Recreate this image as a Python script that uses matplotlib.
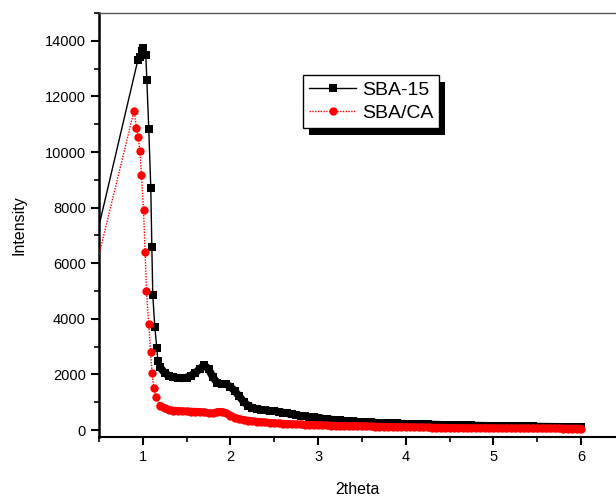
import matplotlib
matplotlib.use("Agg")
import matplotlib.pyplot as plt
from matplotlib.patches import Rectangle
from matplotlib.ticker import MultipleLocator
from matplotlib.transforms import IdentityTransform

plt.rcParams["font.family"] = ["Liberation Sans", "DejaVu Sans"]

# low-angle points (sparse markers around the main peak)
sba15_x_peak = [0.30, 0.943, 0.966, 0.989, 1.000, 1.034, 1.046, 1.068, 1.091, 1.103, 1.114, 1.137, 1.160, 1.171]
sba15_y_peak = [4660, 13300, 13400, 13640, 13750, 13500, 12600, 10840, 8720, 6600, 4850, 3700, 2950, 2500]

sbaca_x_peak = [0.30, 0.900, 0.928, 0.946, 0.966, 0.985, 1.008, 1.026, 1.042, 1.068, 1.088, 1.106, 1.126, 1.148]
sbaca_y_peak = [3700, 11490, 10876, 10553, 10050, 9190, 7930, 6400, 5000, 3805, 2825, 2035, 1497, 1195]

# dense tail, 1.20 .. 6.00 in steps of 0.05
tail_x = [round(1.20 + 0.05 * i, 2) for i in range(97)]
sba15_y_tail = [
    2250, 2050, 1950, 1900, 1870, 1860, 1890, 1960, 2060, 2200,
    2330, 2200, 1900, 1690, 1660, 1650, 1560, 1400, 1220, 1020,
    880, 800, 760, 730, 710, 695, 680, 660, 630, 600,
    570, 540, 515, 495, 475, 455, 435, 415, 395, 378,
    362, 348, 335, 322, 310, 300, 290, 282, 274, 266,
    260, 254, 248, 242, 236, 230, 225, 220, 215, 210,
    206, 202, 198, 194, 190, 186, 182, 178, 174, 170,
    167, 164, 161, 158, 155, 152, 150, 147, 145, 142,
    140, 137, 135, 133, 130, 128, 126, 124, 122, 120,
    118, 116, 114, 112, 110, 108, 106,
]
sbaca_y_tail = [
    880, 780, 730, 700, 690, 680, 670, 665, 660, 655,
    640, 610, 600, 650, 660, 610, 520, 450, 400, 365,
    340, 320, 305, 290, 275, 262, 250, 240, 230, 222,
    215, 208, 200, 194, 188, 183, 178, 172, 167, 162,
    158, 154, 150, 146, 142, 139, 136, 133, 130, 127,
    124, 121, 118, 115, 112, 109, 106, 103, 100, 97,
    95, 92, 90, 87, 85, 82, 80, 78, 76, 74,
    72, 71, 70, 69, 67, 66, 65, 64, 63, 62,
    61, 61, 60, 60, 59, 59, 58, 58, 57, 57,
    56, 56, 55, 55, 54, 54, 53,
]

sba15_x = sba15_x_peak + tail_x
sba15_y = sba15_y_peak + sba15_y_tail
sbaca_x = sbaca_x_peak + tail_x
sbaca_y = sbaca_y_peak + sbaca_y_tail

fig = plt.figure(figsize=(6.16, 5.0), dpi=100)
ax = fig.add_axes([0.1607, 0.126, 0.8393, 0.848])

# dense scan region: overlapping points read as a thick band
ax.plot(tail_x, sba15_y_tail, color="black", linewidth=5.5, solid_capstyle="round", zorder=2)
ax.plot(sba15_x, sba15_y, color="black", linewidth=1.0, marker="s", markersize=5.5,
        markeredgewidth=0, label="SBA-15", zorder=2)
ax.plot(tail_x, sbaca_y_tail, color="red", linewidth=5.5, solid_capstyle="round", zorder=3)
ax.plot(sbaca_x, sbaca_y, color="red", linewidth=1.0, linestyle=(0, (1, 1)), marker="o",
        markersize=6, markeredgewidth=0, label="SBA/CA", zorder=3)

ax.set_xlim(0.5, 6.4)
ax.set_ylim(-250, 15000)
ax.xaxis.set_major_locator(MultipleLocator(1))
ax.xaxis.set_minor_locator(MultipleLocator(0.5))
ax.yaxis.set_major_locator(MultipleLocator(2000))
ax.yaxis.set_minor_locator(MultipleLocator(1000))
ax.tick_params(axis="both", which="major", direction="out", length=6, width=1.5, labelsize=10.5)
ax.tick_params(axis="both", which="minor", direction="out", length=3.5, width=1.2)

ax.spines["right"].set_visible(False)
ax.spines["top"].set_color("#555555")
ax.spines["top"].set_linewidth(1.0)
ax.spines["left"].set_linewidth(1.8)
ax.spines["bottom"].set_linewidth(1.5)

ax.set_xlabel("2theta", fontsize=11.5, labelpad=13)
ax.set_ylabel("Intensity", fontsize=11.5, labelpad=13)

leg = ax.legend(loc="upper left", bbox_to_anchor=(0.492, 0.85), bbox_transform=fig.transFigure,
                borderaxespad=0, fancybox=False, framealpha=1, edgecolor="black",
                fontsize=14, handlelength=2.4, handletextpad=0.3, borderpad=0.32,
                labelspacing=0.29)
leg.get_frame().set_linewidth(1.0)
leg.set_zorder(6)

# solid drop shadow behind the legend box
fig.canvas.draw()
bb = leg.get_window_extent()
shadow = Rectangle((bb.x0 + 6, bb.y0 - 7), bb.width, bb.height, transform=IdentityTransform(),
                   facecolor="black", edgecolor="none", zorder=5, clip_on=False)
ax.add_artist(shadow)

fig.savefig("out.png", dpi=100)
